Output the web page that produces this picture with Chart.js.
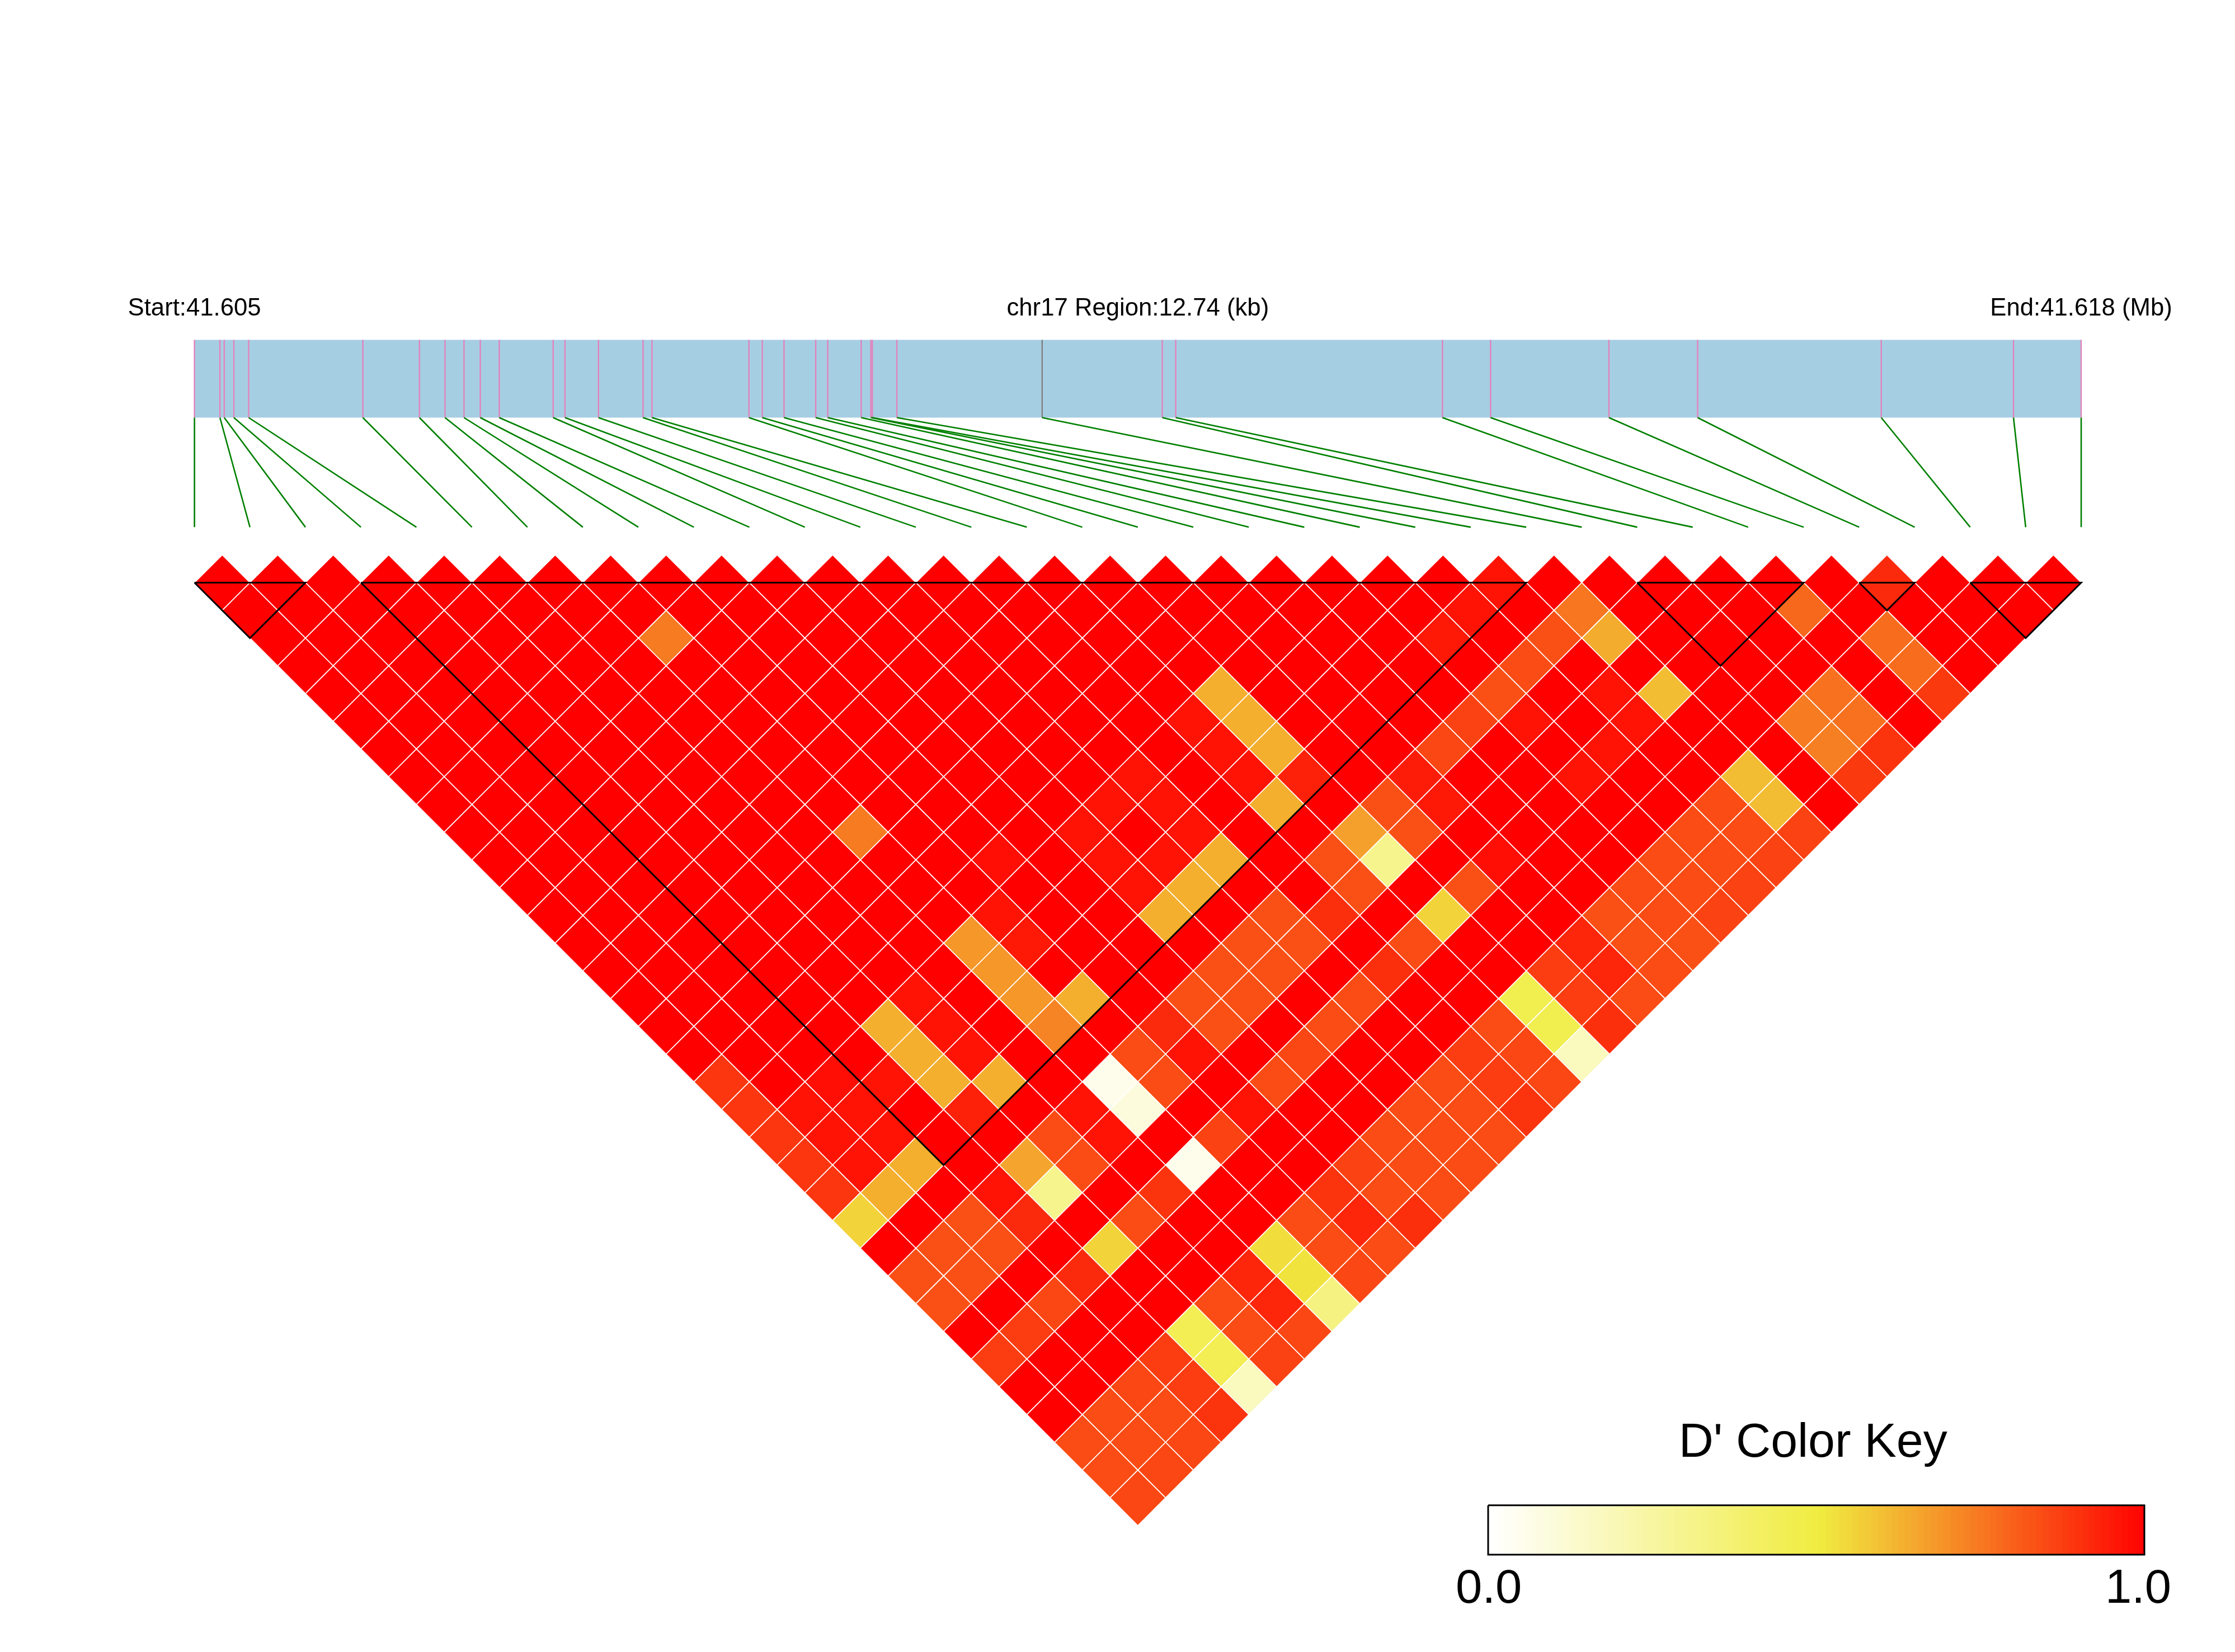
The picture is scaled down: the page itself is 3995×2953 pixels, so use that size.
<!DOCTYPE html>
<html>
<head>
<meta charset="utf-8">
<title>LD heatmap chr17</title>
<script src="https://cdn.jsdelivr.net/npm/chart.js@4/dist/chart.umd.min.js"></script>
<style>
  html, body { margin: 0; padding: 0; background: #ffffff; }
  canvas { display: block; }
</style>
</head>
<body>
<canvas id="ldChart" width="3995" height="2953"></canvas>
<script>
// SNP positions along the region, kb from the start
const snpPositions = [
    0, 0.172, 0.201, 0.266, 0.366, 1.137, 1.519, 1.692, 1.820, 1.930,
    2.058, 2.422, 2.502, 2.728, 3.029, 3.089, 3.744, 3.834, 3.981, 4.195,
    4.276, 4.502, 4.567, 4.577, 4.743, 5.724, 6.535, 6.626, 8.427, 8.752,
    9.551, 10.150, 11.390, 12.283, 12.740
];
const regionLength = 12.74;
const greySnp = 25;

// D' per pair, one row per distance between the SNPs (row 0 = neighbours)
const dPrimeRows = [
    [1,1,1,1,1,1,1,1,1,1,1,1,1,1,1,1,1,1,1,1,1,1,1,.96,1,1,1,1,1,1,.91,1,1,1],
    [1,1,1,1,1,1,1,1,1,1,1,1,1,1,1,1,1,1,1,1,1,1,.96,1,.75,1,1,1,.78,1,1,1,1],
    [1,1,1,1,1,1,1,.74,1,1,1,1,1,1,1,1,1,1,1,1,1,.95,1,.83,.635,1,1,1,1,.77,1,1],
    [1,1,1,1,1,1,1,1,1,1,1,1,1,1,1,1,1,1,1,1,1,1,.84,1,1,1,1,1,1,.77,1],
    [1,1,1,1,1,1,1,1,1,1,1,1,1,1,1,1,.63,1,1,1,1,.83,1,.96,.60,1,1,.76,1,.88],
    [1,1,1,1,1,1,1,1,1,1,1,1,1,1,1,.96,.63,1,1,1,.86,.96,1,.96,1,1,.74,.76,1],
    [1,1,1,1,1,1,1,1,1,1,1,1,1,1,1,.96,.63,1,1,.85,1,1,.96,1,1,1,.73,.89],
    [1,1,1,1,1,1,1,1,1,1,1,1,1,.96,1,.96,.93,1,.94,1,1,.96,1,1,.60,1,.88],
    [1,1,1,1,1,1,1,1,1,1,1,1,.96,.96,1,.63,1,.83,.95,1,1,1,1,.84,.60,1],
    [1,1,1,1,1,1,1,.74,1,1,1,.96,1,.96,1,1,.66,.83,1,1,1,1,.84,.84,.86],
    [1,1,1,1,1,1,1,1,1,.97,1,.96,.96,.63,1,.83,.30,1,.97,1,1,.84,.84,.86],
    [1,1,1,1,1,1,1,1,1,1,1,.96,.63,1,1,.83,1,.83,1,1,.84,.84,.86],
    [1,1,1,1,1,1,1,1,.96,1,1,.63,1,.83,.90,1,.55,1,1,.83,.84,.86],
    [1,1,1,1,1,1,1,.68,.95,1,1,1,.83,.83,1,.84,1,1,.92,.83,.83],
    [1,1,1,1,1,1,1,.68,1,1,1,.83,.83,1,.90,1,1,.87,.92,.84],
    [1,1,1,1,1,.96,1,.68,.63,1,.83,.83,1,.84,1,1,.46,.87,.84],
    [1,1,1,1,.63,.96,1,.72,1,.91,.83,1,.84,1,1,.84,.46,.90],
    [1,1,1,1,.63,.96,1,1,.84,.96,1,.85,1,1,.87,.85,.17],
    [.885,1,.97,.96,.63,.63,1,.05,.84,1,.84,1,1,.84,.87,.85],
    [.885,.96,.96,1,.93,1,.96,.09,1,.96,1,1,.84,.84,.89],
    [.885,.96,.96,1,1,.84,.96,1,.86,1,1,.84,.84,.84],
    [.885,.96,.63,1,.65,.84,1,.05,1,1,.86,.84,.84],
    [.885,.63,1,.96,.30,1,.89,1,1,.89,.84,.84],
    [.55,1,.83,.91,1,.84,1,1,.84,.92,.90],
    [1,.83,.83,1,.55,1,1,.53,.84,.84],
    [.83,.83,1,.91,1,1,.92,.52,.85],
    [.83,1,.85,1,1,.84,.92,.33],
    [1,.87,1,1,.45,.84,.85],
    [.87,1,1,.87,.45,.86],
    [1,1,.85,.87,.17],
    [1,.84,.84,.89],
    [.84,.84,.85],
    [.84,.85],
    [.85]
];

// LD blocks, first and last SNP of each
const blockStarts = [0, 3, 26, 30, 32];
const blockEnds = [2, 24, 29, 31, 34];

// steps of the colour key
const keySteps = [
    0.00,0.01,0.02,0.03,0.04,0.05,0.06,0.07,0.08,0.09,
    0.10,0.11,0.12,0.13,0.14,0.15,0.16,0.17,0.18,0.19,
    0.20,0.21,0.22,0.23,0.24,0.25,0.26,0.27,0.28,0.29,
    0.30,0.31,0.32,0.33,0.34,0.35,0.36,0.37,0.38,0.39,
    0.40,0.41,0.42,0.43,0.44,0.45,0.46,0.47,0.48,0.49,
    0.50,0.51,0.52,0.53,0.54,0.55,0.56,0.57,0.58,0.59,
    0.60,0.61,0.62,0.63,0.64,0.65,0.66,0.67,0.68,0.69,
    0.70,0.71,0.72,0.73,0.74,0.75,0.76,0.77,0.78,0.79,
    0.80,0.81,0.82,0.83,0.84,0.85,0.86,0.87,0.88,0.89,
    0.90,0.91,0.92,0.93,0.94,0.95,0.96,0.97,0.98,0.99
];
const keyStepWidth = 0.01;

const startLabel = 'Start:41.605';
const regionLabel = 'chr17 Region:12.74 (kb)';
const endLabel = 'End:41.618 (Mb)';
const keyTitle = "D' Color Key";
const keyLowLabel = '0.0';
const keyHighLabel = '1.0';

// vertical layout, in heatmap rows (row 0 is the row of neighbouring SNPs)
const barTop = -8.755;
const barBottom = -5.951;
const connectorEnd = -2.0;
const keyTop = 33.27;
const keyBottom = 35.05;

function toSlot(kb) {
    return kb * (snpPositions.length - 1) / regionLength;
}

// white -> yellow at 0.5 -> red at 1
function colorFor(v) {
    const yellow = [240, 236, 64];
    const from = v < 0.5 ? [255, 255, 255] : yellow;
    const to = v < 0.5 ? yellow : [255, 0, 0];
    const t = v < 0.5 ? v / 0.5 : (v - 0.5) / 0.5;
    const rgb = from.map((c, i) => Math.round(c + (to[i] - c) * t));
    return `rgb(${rgb[0]}, ${rgb[1]}, ${rgb[2]})`;
}

const cells = [];
dPrimeRows.forEach((row, depth) => {
    row.forEach((value, col) => {
        cells.push({ x: col + 0.5 + depth / 2, y: depth, v: value });
    });
});

const tickPoints = [];
const greyTickPoints = [];
const connectorPoints = [];
snpPositions.forEach((kb, i) => {
    const slot = toSlot(kb);
    const target = i === greySnp ? greyTickPoints : tickPoints;
    target.push({ x: slot, y: barTop }, { x: slot, y: barBottom }, { x: null, y: null });
    connectorPoints.push({ x: slot, y: barBottom }, { x: i, y: connectorEnd }, { x: null, y: null });
});

const blockPoints = [];
blockStarts.forEach((a, i) => {
    const b = blockEnds[i];
    blockPoints.push({ x: a, y: 0 }, { x: b, y: 0 }, { x: (a + b) / 2, y: b - a }, { x: a, y: 0 }, { x: null, y: null });
});

const linePoint = { showLine: true, pointRadius: 0, pointHoverRadius: 0, tension: 0 };

const textPlugin = {
    id: 'ldText',
    afterDatasetsDraw(chart) {
        const { ctx, scales } = chart;
        const put = (text, px, row, size) => {
            ctx.font = `${size}px "Liberation Sans"`;
            ctx.fillText(text, px, scales.y.getPixelForValue(row));
        };
        ctx.save();
        ctx.fillStyle = '#000000';
        ctx.textAlign = 'center';
        ctx.textBaseline = 'alphabetic';
        put(startLabel, scales.x.getPixelForValue(0), -9.63, 43.7);
        put(regionLabel, scales.x.getPixelForValue(17), -9.63, 43.7);
        put(endLabel, scales.x.getPixelForValue(34), -9.63, 43.7);
        put(keyTitle, scales.xKey.getPixelForValue(0.495), 31.52, 86);
        put(keyLowLabel, scales.xKey.getPixelForValue(0.001), 36.79, 85);
        put(keyHighLabel, scales.xKey.getPixelForValue(0.9906), 36.79, 85);
        ctx.restore();
    }
};

new Chart(document.getElementById('ldChart'), {
    type: 'scatter',
    data: {
        datasets: [
            {
                label: 'LD blocks',
                data: blockPoints,
                ...linePoint,
                borderColor: '#000000',
                borderWidth: 3,
                order: 0
            },
            {
                label: 'D prime',
                data: cells,
                pointStyle: 'rectRot',
                pointRadius: 49.6,
                pointHoverRadius: 49.6,
                pointBackgroundColor: cells.map(c => colorFor(c.v)),
                pointBorderColor: '#ffffff',
                pointBorderWidth: 1.7,
                order: 1
            },
            {
                label: 'Connectors',
                data: connectorPoints,
                ...linePoint,
                borderColor: '#008000',
                borderWidth: 2.6,
                order: 1
            },
            {
                label: 'SNP ticks',
                data: tickPoints,
                ...linePoint,
                borderColor: '#E283BC',
                borderWidth: 2.4,
                order: 1
            },
            {
                label: 'Grey tick',
                data: greyTickPoints,
                ...linePoint,
                borderColor: '#808080',
                borderWidth: 2.4,
                order: 1
            },
            {
                label: 'Region top',
                data: [{ x: 0, y: barTop }, { x: 34, y: barTop }],
                ...linePoint,
                borderWidth: 0,
                fill: '+1',
                backgroundColor: '#A6CEE3',
                order: 2
            },
            {
                label: 'Region bottom',
                data: [{ x: 0, y: barBottom }, { x: 34, y: barBottom }],
                ...linePoint,
                borderWidth: 0,
                order: 2
            },
            {
                label: 'Key outline',
                data: [
                    { x: 0, y: keyTop }, { x: 1, y: keyTop }, { x: 1, y: keyBottom },
                    { x: 0, y: keyBottom }, { x: 0, y: keyTop }
                ],
                xAxisID: 'xKey',
                ...linePoint,
                borderColor: '#000000',
                borderWidth: 3,
                order: 0
            },
            {
                type: 'bar',
                label: 'Key',
                data: keySteps.map(v => ({ x: v + keyStepWidth / 2, y: [keyTop, keyBottom] })),
                xAxisID: 'xKey',
                backgroundColor: keySteps.map(v => colorFor(v + keyStepWidth / 2)),
                borderWidth: 0,
                barThickness: 11.7,
                // stop the last step at the key outline
                clip: { left: 0, top: 0, right: -161, bottom: 0 },
                order: 3
            }
        ]
    },
    options: {
        responsive: false,
        animation: false,
        devicePixelRatio: 1,
        events: [],
        layout: { padding: 0, autoPadding: false },
        plugins: {
            legend: { display: false },
            tooltip: { enabled: false }
        },
        scales: {
            x: { type: 'linear', display: false, min: -3.5044, max: 36.772 },
            xKey: { type: 'linear', display: false, offset: false, min: -2.2677, max: 1.1381 },
            y: { type: 'linear', display: false, reverse: true, min: -21.01, max: 38.56 }
        }
    },
    plugins: [textPlugin]
});
</script>
</body>
</html>
